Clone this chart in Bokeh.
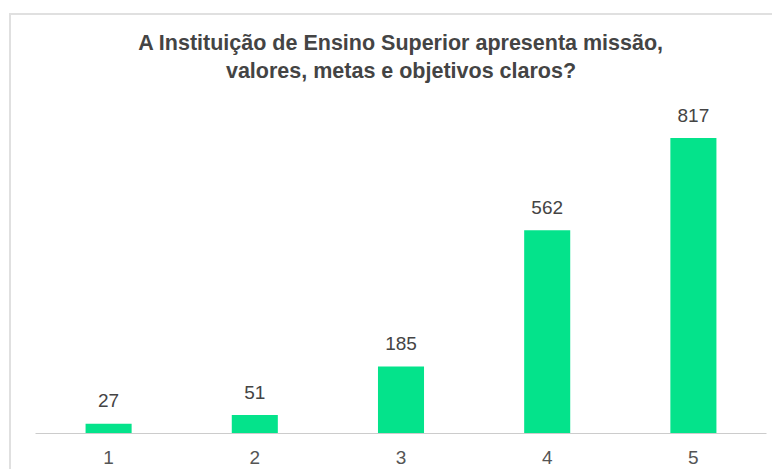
from bokeh.plotting import figure
from bokeh.models import Title, FactorRange, Range1d, ColumnDataSource
from bokeh.core.properties import value
from bokeh.embed import file_html
from bokeh.resources import INLINE

# ---- data ----
categories = ["1", "2", "3", "4", "5"]
counts = [27, 51, 185, 562, 817]
bar_labels = [str(c) for c in counts]
title_line1 = "A Instituição de Ensino Superior apresenta missão,"
title_line2 = "valores, metas e objetivos claros?"

FONT = "Liberation Sans"
BAR_COLOR = "#04e38b"

src = ColumnDataSource(dict(cat=categories, count=counts, label=bar_labels))

p = figure(
    x_range=FactorRange(*categories, range_padding=0),
    y_range=Range1d(0, 968),
    width=763, height=456,
    output_backend="svg", toolbar_location=None,
    min_border_left=24, min_border_right=8, min_border_bottom=38, min_border_top=68,
)
p.styles = {
    "margin-left": "11px",
    "margin-top": "15px",
    "box-shadow": "-2px -2px 0 0 #e0e0e0",
}

p.vbar(x="cat", top="count", width=0.315, source=src,
       fill_color=BAR_COLOR, line_color=None)
p.text(x="cat", y="count", text="label", source=src,
       text_align="center", text_baseline="alphabetic", y_offset=-23,
       text_font=value(FONT), text_font_size="19px", text_color="#444444")

for line, so in ((title_line2, 2), (title_line1, 2)):
    t = Title(text=line, align="center", text_font=FONT, text_font_size="21.5px",
              text_font_style="bold", text_color="#444444", standoff=so)
    p.add_layout(t, "above")

p.xaxis.axis_line_color = "#cccccc"
p.xaxis.axis_line_width = 1
p.xaxis.major_tick_line_color = None
p.xaxis.minor_tick_line_color = None
p.xaxis.major_label_text_font = FONT
p.xaxis.major_label_text_font_size = "19px"
p.xaxis.major_label_text_color = "#555555"
p.xaxis.major_label_standoff = 11
p.yaxis.visible = False
p.xgrid.visible = False
p.ygrid.visible = False
p.outline_line_color = None
p.background_fill_color = "white"
p.border_fill_color = "white"

open("out.html", "w").write(file_html(p, INLINE))
